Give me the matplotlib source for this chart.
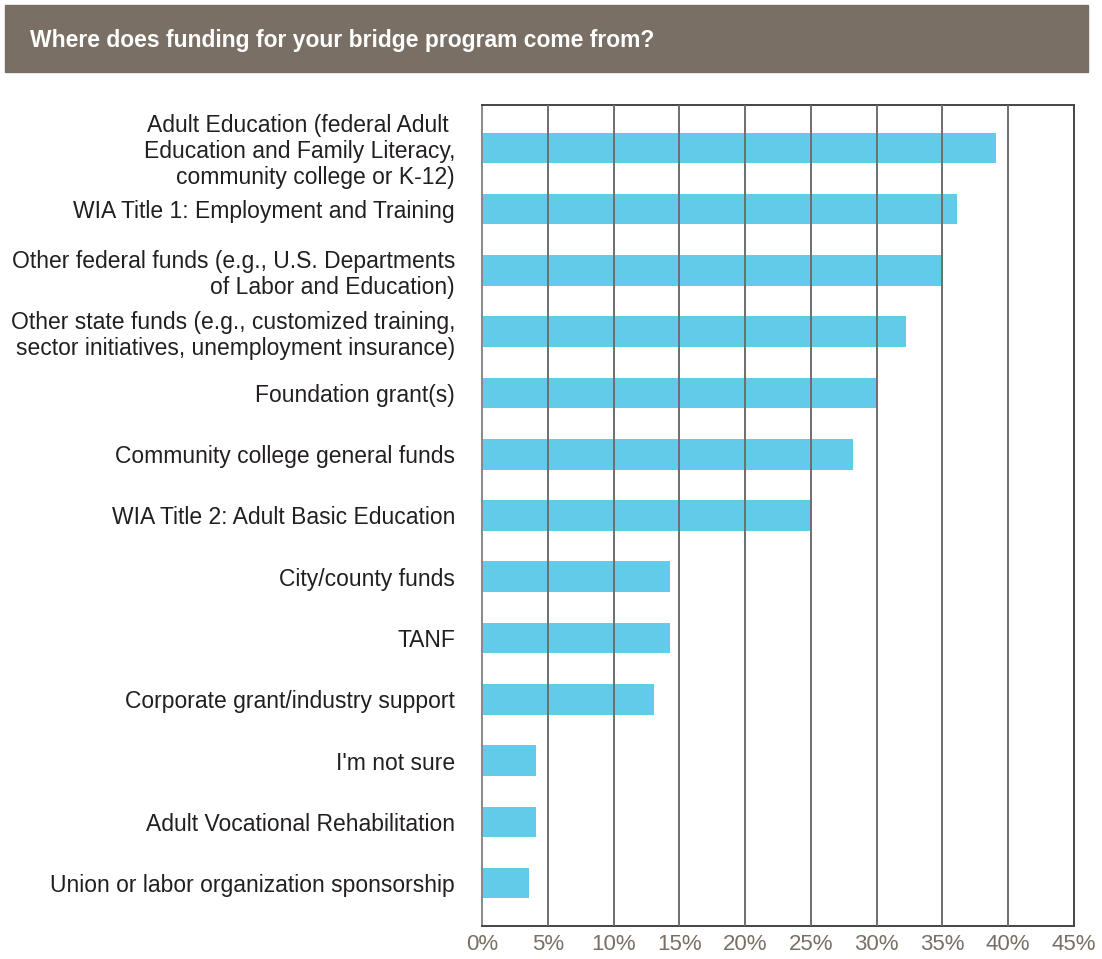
import matplotlib.pyplot as plt
from matplotlib.patches import Rectangle

plt.rcParams['font.family'] = ['Liberation Sans', 'DejaVu Sans']

# Survey answers, top to bottom
categories = [
    'Adult Education (federal Adult \nEducation and Family Literacy,\ncommunity college or K-12)',
    'WIA Title 1: Employment and Training',
    'Other federal funds (e.g., U.S. Departments\nof Labor and Education)',
    'Other state funds (e.g., customized training,\nsector initiatives, unemployment insurance)',
    'Foundation grant(s)',
    'Community college general funds',
    'WIA Title 2: Adult Basic Education',
    'City/county funds',
    'TANF',
    'Corporate grant/industry support',
    "I'm not sure",
    'Adult Vocational Rehabilitation',
    'Union or labor organization sponsorship',
]
percent = [39.1, 36.1, 35.0, 32.2, 30.0, 28.2, 25.0, 14.3, 14.3, 13.1, 4.1, 4.1, 3.6]
tick_values = [0, 5, 10, 15, 20, 25, 30, 35, 40, 45]
tick_labels = [f'{t}%' for t in tick_values]

bar_color = '#63cbea'
header_color = '#7a6f64'
gray_text = '#7a6f64'

fig = plt.figure(figsize=(11.02, 9.59), dpi=100)

# header band with the question
W, H = 1102, 959
fig.patches.append(Rectangle((5 / W, 1 - 72 / H), 1083 / W, 67 / H,
                             transform=fig.transFigure, color=header_color, zorder=0))
fig.text(30 / W, 1 - 41 / H, 'Where does funding for your bridge program come from?',
         color='white', fontsize=16.5, fontweight='bold', va='center', ha='left')

ax = fig.add_axes([482 / W, 1 - 926 / H, (1074 - 482) / W, (926 - 105) / H])

y = list(range(len(categories)))
ax.barh(y, percent, height=0.5, color=bar_color, zorder=2)

ax.set_xlim(0, 45)
ax.set_ylim(len(categories) - 0.3, -0.7)
ax.set_xticks(tick_values)
ax.set_xticklabels(tick_labels, color=gray_text, fontsize=16)
ax.set_yticks(y)
ax.set_yticklabels(categories, fontsize=16.5, color='#231f20', linespacing=1.17)
ax.tick_params(axis='both', length=0)
ax.tick_params(axis='y', pad=19.5)
ax.tick_params(axis='x', pad=6)

for t in tick_values[1:-1]:
    ax.axvline(t, color='#6e6e6e', linewidth=1.4, zorder=3)

for side in ['top', 'bottom', 'right']:
    ax.spines[side].set_color('#444444')
    ax.spines[side].set_linewidth(1.4)
ax.spines['left'].set_color('#888888')
ax.spines['left'].set_linewidth(1.4)

fig.savefig('out.png', dpi=100)
